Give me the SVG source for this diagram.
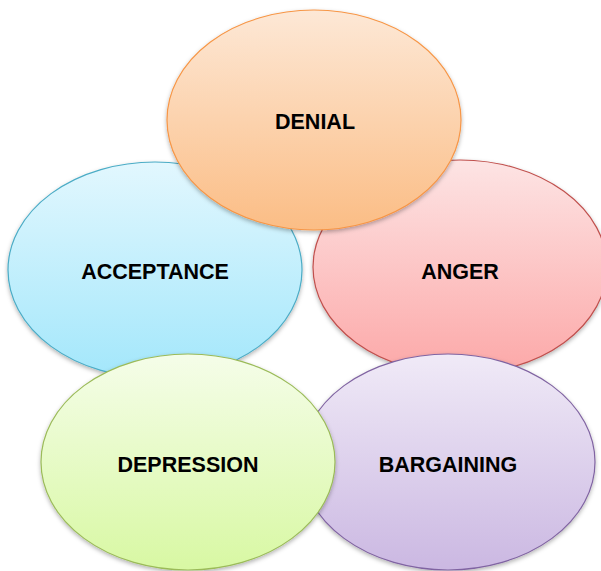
<svg xmlns="http://www.w3.org/2000/svg" width="601" height="571" viewBox="0 0 601 571">
<defs>
<linearGradient id="gOrange" x1="0" y1="0" x2="0" y2="1"><stop offset="0" stop-color="#fde8d6"/><stop offset="1" stop-color="#fbbd85"/></linearGradient>
<linearGradient id="gBlue" x1="0" y1="0" x2="0" y2="1"><stop offset="0" stop-color="#e2f7fe"/><stop offset="1" stop-color="#a3e7fb"/></linearGradient>
<linearGradient id="gRed" x1="0" y1="0" x2="0" y2="1"><stop offset="0" stop-color="#fde4e4"/><stop offset="1" stop-color="#fca8a8"/></linearGradient>
<linearGradient id="gGreen" x1="0" y1="0" x2="0" y2="1"><stop offset="0" stop-color="#f5fde9"/><stop offset="1" stop-color="#d8f8a3"/></linearGradient>
<linearGradient id="gPurple" x1="0" y1="0" x2="0" y2="1"><stop offset="0" stop-color="#f0eaf7"/><stop offset="1" stop-color="#cbb8e2"/></linearGradient>
<filter id="sh" x="-10%" y="-10%" width="120%" height="125%"><feDropShadow dx="0" dy="2" stdDeviation="2" flood-color="#000" flood-opacity="0.3"/></filter>
</defs>
<style>
.node ellipse{stroke-width:1.2;filter:url(#sh)}
.node text{font-family:"Liberation Sans",Arial,sans-serif;font-weight:bold;font-size:21.5px;fill:#000;text-anchor:middle}
</style>
<g id="connectors"/>
<g id="acceptance" class="node">
<ellipse cx="155" cy="270" rx="147" ry="108" fill="url(#gBlue)" stroke="#4bacc6"/>
<text x="155" y="279">ACCEPTANCE</text>
</g>
<g id="anger" class="node">
<ellipse cx="460" cy="267" rx="147" ry="107" fill="url(#gRed)" stroke="#c0504d"/>
<text x="460" y="279">ANGER</text>
</g>
<g id="bargaining" class="node">
<ellipse cx="448" cy="462" rx="147" ry="108" fill="url(#gPurple)" stroke="#8064a2"/>
<text x="448" y="472">BARGAINING</text>
</g>
<g id="depression" class="node">
<ellipse cx="188" cy="462" rx="147" ry="108" fill="url(#gGreen)" stroke="#9bbb59"/>
<text x="188" y="472">DEPRESSION</text>
</g>
<g id="denial" class="node">
<ellipse cx="314" cy="120" rx="147" ry="110" fill="url(#gOrange)" stroke="#f79646"/>
<text x="315" y="129">DENIAL</text>
</g>
</svg>
